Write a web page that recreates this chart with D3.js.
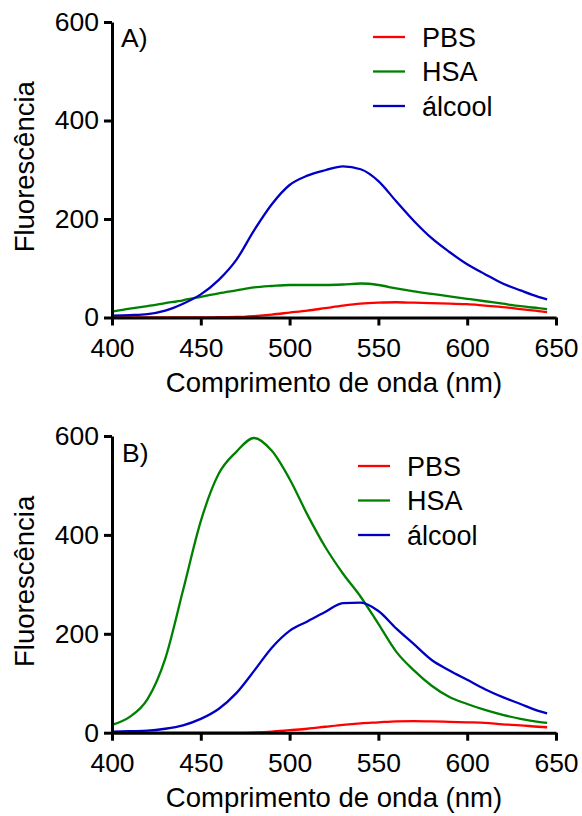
<!DOCTYPE html>
<html>
<head>
<meta charset="utf-8">
<script src="https://cdn.jsdelivr.net/npm/d3@7"></script>
<style>
  body { margin: 0; background: #fff; }
  text { font-family: "Liberation Sans", Arial, sans-serif; fill: #000; }
</style>
</head>
<body>
<div id="chart"></div>
<script>
// data
var wavelength = [400, 410, 420, 430, 440, 450, 460, 470, 480, 490, 500, 510, 520,
                  530, 540, 550, 560, 570, 580, 590, 600, 610, 620, 630, 640, 645];

var pbsA    = [0, 0, 0, 0, 0, 0, 0.5, 1, 3, 6, 10, 14, 19, 24, 28, 30, 31, 30, 29, 28, 27, 24, 21, 17, 13, 11];
var hsaA    = [12, 18, 23, 29, 35, 42, 49, 55, 61, 64, 66, 66, 66, 67, 69, 66, 59, 53, 48, 43, 38, 33, 28, 23, 19, 17];
var alcoolA = [4, 5, 7, 14, 28, 47, 76, 117, 177, 230, 269, 288, 299, 307, 301, 277, 236, 196, 161, 133, 108, 88, 69, 55, 42, 37];

var pbsB    = [0, 0, 0, 0, 0, 0, 0, 0, 0.5, 2, 5, 8, 12, 16, 19, 21, 23, 23.5, 23, 22, 21, 20, 17, 15, 12, 11];
var hsaB    = [16, 32, 68, 150, 288, 428, 523, 568, 596, 570, 513, 441, 376, 322, 275, 220, 164, 126, 95, 72, 58, 46, 36, 28, 22, 20];
var alcoolB = [2, 3, 4, 8, 15, 28, 48, 80, 125, 172, 206, 225, 244, 262, 263, 246, 211, 179, 147, 126, 107, 88, 72, 58, 44, 39];

var seriesNames = ["PBS", "HSA", "álcool"];
var seriesColors = ["#ff0000", "#008000", "#0000c4"];
var xTicks = [400, 450, 500, 550, 600, 650];
var yTicks = [0, 200, 400, 600];

// layout
var W = 582, H = 816;
var svg = d3.select("#chart")
  .append("svg")
    .attr("width", W)
    .attr("height", H);

var panels = [
  { label: "A)", series: [pbsA, hsaA, alcoolA], x0: 112, x1: 556, yTop: 22, yBot: 317.5,
    legX: 373, legY: 37, labelX: 121, labelY: 47 },
  { label: "B)", series: [pbsB, hsaB, alcoolB], x0: 112, x1: 556, yTop: 436, yBot: 732.7,
    legX: 358, legY: 466, labelX: 122, labelY: 462 }
];

panels.forEach(function(p) {
  var x = d3.scaleLinear().domain([400, 650]).range([p.x0, p.x1]);
  var y = d3.scaleLinear().domain([0, 600]).range([p.yBot, p.yTop]);

  var g = svg.append("g");

  // curves
  var line = d3.line()
    .x(function(d, i) { return x(wavelength[i]); })
    .y(function(d) { return y(d); })
    .curve(d3.curveMonotoneX);

  p.series.forEach(function(s, k) {
    g.append("path")
      .attr("fill", "none")
      .attr("stroke", seriesColors[k])
      .attr("stroke-width", 2.3)
      .attr("d", line(s));
  });

  // axes
  var xAxis = g.append("g")
    .attr("transform", "translate(0," + p.yBot + ")")
    .call(d3.axisBottom(x).tickValues(xTicks).tickSize(8).tickSizeOuter(0).tickPadding(5));
  var yAxis = g.append("g")
    .attr("transform", "translate(" + p.x0 + ",0)")
    .call(d3.axisLeft(y).tickValues(yTicks).tickSize(8).tickSizeOuter(0).tickPadding(5));

  [xAxis, yAxis].forEach(function(a) {
    a.select(".domain").attr("stroke", "#000").attr("stroke-width", 3);
    a.selectAll(".tick line").attr("stroke", "#000").attr("stroke-width", 3);
    a.selectAll(".tick text")
      .style("font-size", "26.5px")
      .style("font-family", "'Liberation Sans', Arial, sans-serif");
  });
  xAxis.selectAll(".tick text").attr("dy", null).attr("y", 39);

  // axis titles
  g.append("text")
    .attr("x", (p.x0 + p.x1) / 2)
    .attr("y", p.yBot + 74)
    .attr("text-anchor", "middle")
    .style("font-size", "27.5px")
    .text("Comprimento de onda (nm)");

  g.append("text")
    .attr("transform", "translate(34," + ((p.yTop + p.yBot) / 2 - 3) + ") rotate(-90)")
    .attr("text-anchor", "middle")
    .style("font-size", "27.5px")
    .text("Fluorescência");

  // panel label
  g.append("text")
    .attr("x", p.labelX)
    .attr("y", p.labelY)
    .style("font-size", "26.5px")
    .text(p.label);

  // legend
  var leg = g.append("g");
  seriesNames.forEach(function(name, k) {
    var ly = p.legY + k * 34.5;
    leg.append("line")
      .attr("x1", p.legX).attr("x2", p.legX + 32)
      .attr("y1", ly).attr("y2", ly)
      .attr("stroke", seriesColors[k])
      .attr("stroke-width", 2.3);
    leg.append("text")
      .attr("x", p.legX + 49)
      .attr("y", ly)
      .attr("dy", "0.36em")
      .style("font-size", "27px")
      .text(name);
  });
});
</script>
</body>
</html>
